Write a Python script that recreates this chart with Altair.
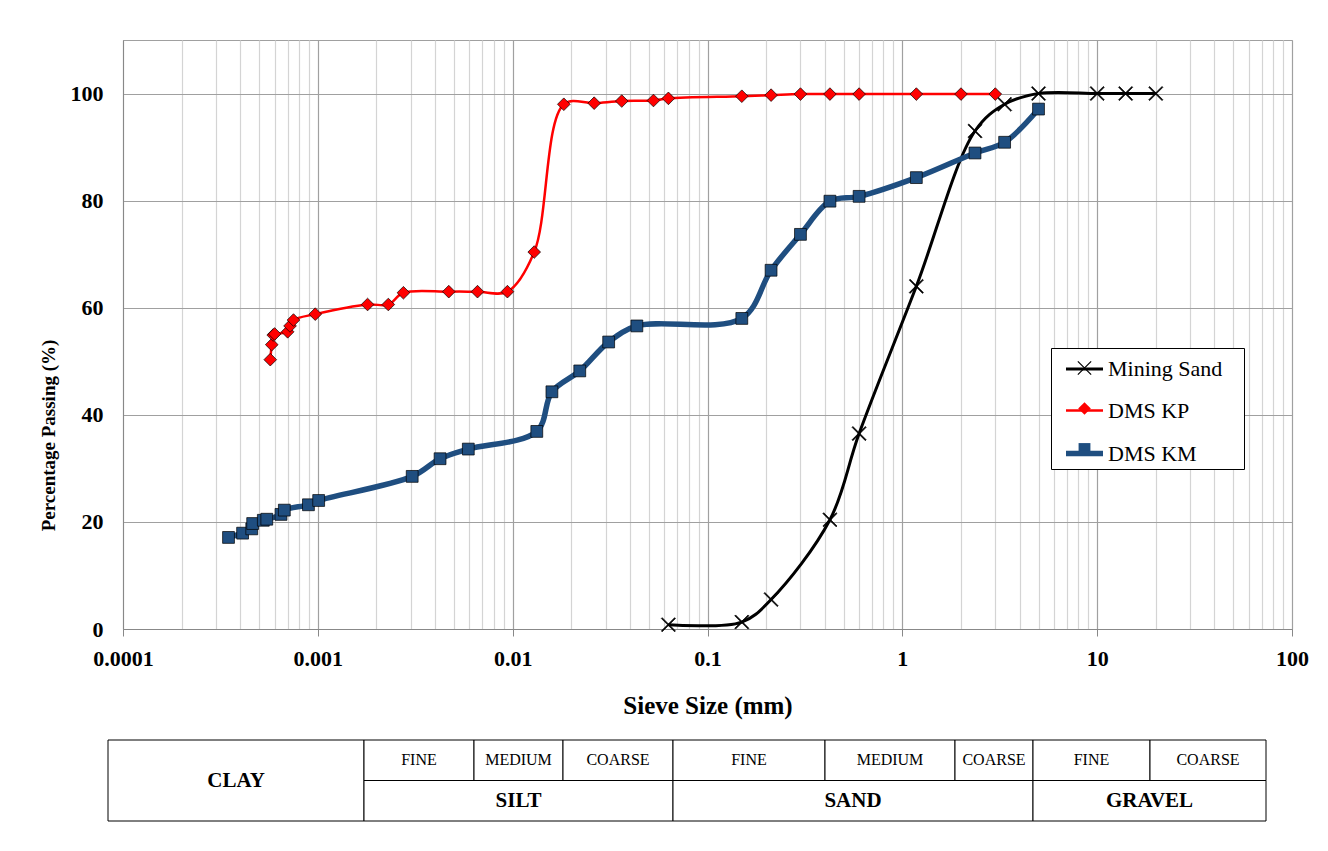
import altair as alt
import pandas as pd

FONT = "Liberation Serif"

# ---------------- data ----------------
series_names = ["Mining Sand", "DMS KP", "DMS KM"]

ms_size = [0.063, 0.15, 0.212, 0.425, 0.6, 1.18, 2.36, 3.35, 5.0, 10.0, 14.0, 20.0]
ms_pass = [0.8, 1.3, 5.5, 20.4, 36.5, 64.0, 93.0, 98.0, 100.0, 100.0, 100.0, 100.0]

kp_size = [0.00057, 0.00058, 0.00059, 0.0006, 0.0007, 0.00072, 0.00075, 0.00097,
           0.0018, 0.0023, 0.00275, 0.0047, 0.0066, 0.0094, 0.0129, 0.0183,
           0.0262, 0.0363, 0.0528, 0.063, 0.15, 0.212, 0.3, 0.425, 0.6, 1.18, 2.0, 3.0]
kp_pass = [50.3, 53.1, 54.9, 55.1, 55.5, 56.6, 57.7, 58.8,
           60.6, 60.6, 62.8, 63.0, 63.0, 63.0, 70.4, 98.0,
           98.2, 98.6, 98.7, 99.1, 99.5, 99.7, 99.9, 99.9, 99.9, 99.9, 99.9, 99.9]

km_size = [0.000348, 0.000411, 0.000458, 0.000463, 0.000525, 0.000547, 0.000647, 0.000673,
           0.000895, 0.00101, 0.00305, 0.00424, 0.00592, 0.0133, 0.0159, 0.0221, 0.0311,
           0.0434, 0.15, 0.212, 0.3, 0.425, 0.6, 1.18, 2.36, 3.35, 5.0]
km_pass = [17.1, 17.9, 18.7, 19.7, 20.3, 20.5, 21.4, 22.2,
           23.2, 24.0, 28.5, 31.8, 33.6, 36.9, 44.3, 48.2, 53.6,
           56.6, 58.0, 67.0, 73.7, 79.9, 80.8, 84.3, 88.9, 90.9, 97.1]

major_ticks = [0.0001, 0.001, 0.01, 0.1, 1, 10, 100]
major_labels = ["0.0001", "0.001", "0.01", "0.1", "1", "10", "100"]
y_ticks = [0, 20, 40, 60, 80, 100]

# soil classification table (cells in table units, rows 0..2)
cell_labels = ["CLAY", "FINE", "MEDIUM", "COARSE", "SILT", "FINE", "MEDIUM", "COARSE",
               "SAND", "FINE", "COARSE", "GRAVEL"]
cell_start = [0, 256, 366, 455, 256, 565, 717, 847, 565, 925, 1042, 925]
cell_end = [256, 366, 455, 565, 565, 717, 847, 925, 925, 1042, 1158, 1158]
cell_row_top = [0, 0, 0, 0, 1, 0, 0, 0, 1, 0, 0, 1]
cell_row_bottom = [2, 1, 1, 1, 2, 1, 1, 1, 2, 1, 1, 2]
cell_level = ["main", "sub", "sub", "sub", "main", "sub", "sub", "sub", "main", "sub", "sub", "main"]

# ---------------- build tables ----------------
marker_keys = ["marker " + s for s in series_names]
rows = []
for name, key, xs, ys in [("Mining Sand", marker_keys[0], ms_size, ms_pass),
                          ("DMS KP", marker_keys[1], kp_size, kp_pass),
                          ("DMS KM", marker_keys[2], km_size, km_pass)]:
    for xv, yv in zip(xs, ys):
        rows.append({"series": name, "series_m": key, "size": xv, "passing": yv})
df = pd.DataFrame(rows)

grid_ticks = []
for mj in major_ticks[:-1]:
    for m in range(1, 10):
        grid_ticks.append(m * mj)
grid_ticks.append(major_ticks[-1])

is_major = "abs(log(datum.value)/LN10 - round(log(datum.value)/LN10)) < 0.001"
label_arr = "[" + ",".join("'" + s + "'" for s in major_labels) + "]"
x_label_expr = f"({is_major}) ? {label_arr}[round(log(datum.value)/LN10) + 4] : ''"

x_axis = alt.Axis(
    values=grid_ticks,
    labelExpr=x_label_expr,
    labelFont=FONT, labelFontSize=22, labelFontWeight="bold", labelColor="black",
    labelPadding=12, labelFlush=False, labelOverlap=False,
    tickSize=7,
    tickColor={"condition": {"test": is_major, "value": "#888888"}, "value": "transparent"},
    gridColor={"condition": {"test": is_major, "value": "#a0a0a0"}, "value": "#d4d4d4"},
    gridWidth=1.2,
    domainColor="#888888",
    title="Sieve Size (mm)", titleFont=FONT, titleFontSize=25, titleFontWeight="bold",
    titleColor="black", titlePadding=24,
)
y_axis = alt.Axis(
    values=y_ticks,
    labelFont=FONT, labelFontSize=22, labelFontWeight="bold", labelColor="black",
    labelPadding=20, ticks=False,
    gridColor="#a0a0a0", gridWidth=1.2, domainColor="#888888",
    title="Percentage Passing (%)", titleFont=FONT, titleFontSize=19, titleFontWeight="bold",
    titleColor="black", titlePadding=12, titleY=395,
)

xenc = alt.X("size:Q", scale=alt.Scale(type="log", domain=[0.0001, 100], nice=False), axis=x_axis)
yenc = alt.Y("passing:Q", scale=alt.Scale(domain=[0, 110], nice=False, zero=True), axis=y_axis)

# legend: lines (with labels) drawn over a marker legend that carries the frame
line_legend = alt.Legend(
    orient="none", legendX=928, legendY=302, title=None,
    symbolType="stroke", symbolSize=1369,
    padding=7, rowPadding=10.5, symbolOffset=5, labelOffset=2,
    labelFont=FONT, labelFontSize=22, labelColor="black",
    zindex=1,
)
point_legend = alt.Legend(
    orient="none", legendX=928, legendY=308, title=None,
    padding=1.5, rowPadding=2.5, symbolOffset=13.5, labelOffset=139.5,
    labelFont=FONT, labelFontSize=37, labelExpr="''",
    symbolStrokeColor="black", symbolStrokeWidth=0.8,
    strokeColor="black", fillColor="white", zindex=0,
)

base = alt.Chart(df).encode(x=xenc, y=yenc)

lines = base.mark_line(interpolate="catmull-rom").encode(
    stroke=alt.Stroke("series:N",
                      scale=alt.Scale(domain=series_names, range=["#000000", "#FF0000", "#1F4E80"]),
                      legend=line_legend),
    strokeWidth=alt.StrokeWidth("series:N",
                                scale=alt.Scale(type="ordinal", domain=series_names, range=[3, 2.5, 5.5]),
                                legend=line_legend),
)

# thin filled "x" glyph
CROSS = ("M-0.88,-1L1,0.88L0.88,1L-1,-0.88Z"
         "M-1,0.88L0.88,-1L1,-0.88L-0.88,1Z")
points = base.mark_point(filled=True, stroke="black", strokeWidth=0.7, opacity=1).encode(
    fill=alt.Fill("series_m:N",
                  scale=alt.Scale(domain=marker_keys, range=["#000000", "#FF0000", "#1F4E80"]),
                  legend=point_legend),
    shape=alt.Shape("series_m:N",
                    scale=alt.Scale(domain=marker_keys, range=[CROSS, "diamond", "square"]),
                    legend=point_legend),
    size=alt.Size("series_m:N",
                  scale=alt.Scale(type="ordinal", domain=marker_keys, range=[200, 160, 140]),
                  legend=point_legend),
)

main = alt.layer(lines, points).properties(
    width=1169, height=589,
    view=alt.ViewBackground(stroke="#a0a0a0"),
)

# ---------------- classification table ----------------
tdf = pd.DataFrame({
    "label": cell_labels, "x0": cell_start, "x1": cell_end,
    "r0": cell_row_top, "r1": cell_row_bottom, "level": cell_level,
})
tx_scale = alt.Scale(domain=[15, 1184], nice=False, zero=False)
ty_scale = alt.Scale(domain=[0, 2], nice=False, zero=False, reverse=True)

rects = alt.Chart(tdf).mark_rect(fill="white", stroke="black", strokeWidth=1).encode(
    x=alt.X("x0:Q", scale=tx_scale, axis=None),
    x2="x1:Q",
    y=alt.Y("r0:Q", scale=ty_scale, axis=None),
    y2="r1:Q",
)
tbase = alt.Chart(tdf).transform_calculate(
    xm="(datum.x0 + datum.x1) / 2", ym="(datum.r0 + datum.r1) / 2"
).encode(
    x=alt.X("xm:Q", scale=tx_scale, axis=None),
    y=alt.Y("ym:Q", scale=ty_scale, axis=None),
    text="label:N",
)
main_text = tbase.transform_filter("datum.level == 'main'").mark_text(
    font=FONT, fontSize=21, fontWeight="bold", color="black", baseline="middle")
sub_text = tbase.transform_filter("datum.level == 'sub'").mark_text(
    font=FONT, fontSize=16, color="black", baseline="middle")

table = alt.layer(rects, main_text, sub_text).properties(
    width=1169, height=81,
    view=alt.ViewBackground(stroke="transparent"),
)

chart = alt.vconcat(main, table, spacing=20).resolve_scale(
    x="independent", y="independent"
).properties(
    padding={"left": 30, "top": 31, "right": 5, "bottom": 5},
    background="white",
)

chart.save("out.html", embed_options={"renderer": "svg", "actions": False})
